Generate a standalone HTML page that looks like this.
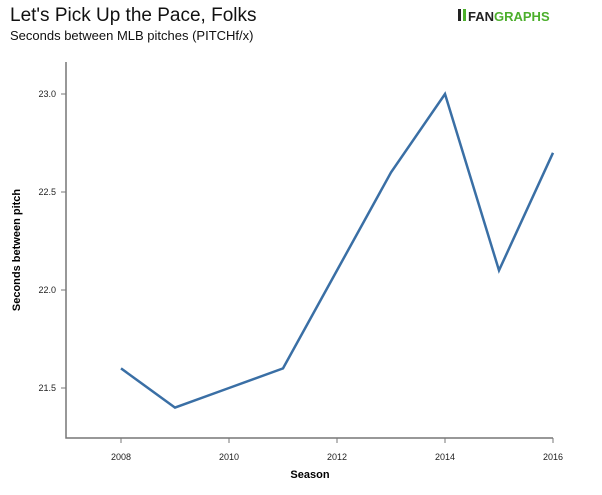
<!DOCTYPE html>
<html><head><meta charset="utf-8"><style>
body{margin:0;background:#fff;font-family:"Liberation Sans",sans-serif;}
svg{display:block}
</style></head><body>
<svg width="602" height="495">
<text x="10" y="21" font-size="19" fill="#111">Let's Pick Up the Pace, Folks</text>
<text x="10" y="40" font-size="13" fill="#111">Seconds between MLB pitches (PITCHf/x)</text>
<g>
<rect x="458" y="9" width="3" height="12" fill="#222"/><rect x="463" y="9" width="3" height="12" fill="#4caf2c"/>
<text x="468" y="21" font-size="13" font-weight="bold" fill="#222">FAN<tspan fill="#4caf2c">GRAPHS</tspan></text>
</g>
<g id="axes"></g>
<path id="line" fill="none" stroke="#3a6fa5" stroke-width="2.5"/>
<text x="310" y="478" font-size="11" font-weight="bold" text-anchor="middle">Season</text>
<text transform="translate(20,250) rotate(-90)" font-size="11" font-weight="bold" text-anchor="middle">Seconds between pitch</text>
</svg>
<script>
const years=[2008,2009,2010,2011,2012,2013,2014,2015,2016];
const seconds=[21.6,21.4,21.5,21.6,22.1,22.6,23.0,22.1,22.7];
const xTicks=[2008,2010,2012,2014,2016];
const yTicks=[21.5,22.0,22.5,23.0];
const X=v=>121+(v-2008)*54, Y=v=>94+(23-v)*196;
const ns="http://www.w3.org/2000/svg", g=document.getElementById('axes');
function mk(t,a){const e=document.createElementNS(ns,t);for(const k in a)e.setAttribute(k,a[k]);g.appendChild(e);return e;}
let e=mk('path',{d:'M66,62V438H553',fill:'none',stroke:'#777','stroke-width':1.5});


xTicks.forEach(t=>{mk('line',{x1:X(t),x2:X(t),y1:438,y2:443,stroke:'#777'});
 const l=mk('text',{x:X(t),y:460,'font-size':9,'text-anchor':'middle',fill:'#222'});l.textContent=t;
 
 });
yTicks.forEach(t=>{mk('line',{x1:61,x2:66,y1:Y(t),y2:Y(t),stroke:'#777'});
 const l=mk('text',{x:56,y:Y(t)+3,'font-size':9,'text-anchor':'end',fill:'#222'});l.textContent=t.toFixed(1);
 
 });
document.getElementById('line').setAttribute('d',years.map((y,i)=>(i?'L':'M')+X(y)+','+Y(seconds[i])).join(''));
</script>
</body></html>
